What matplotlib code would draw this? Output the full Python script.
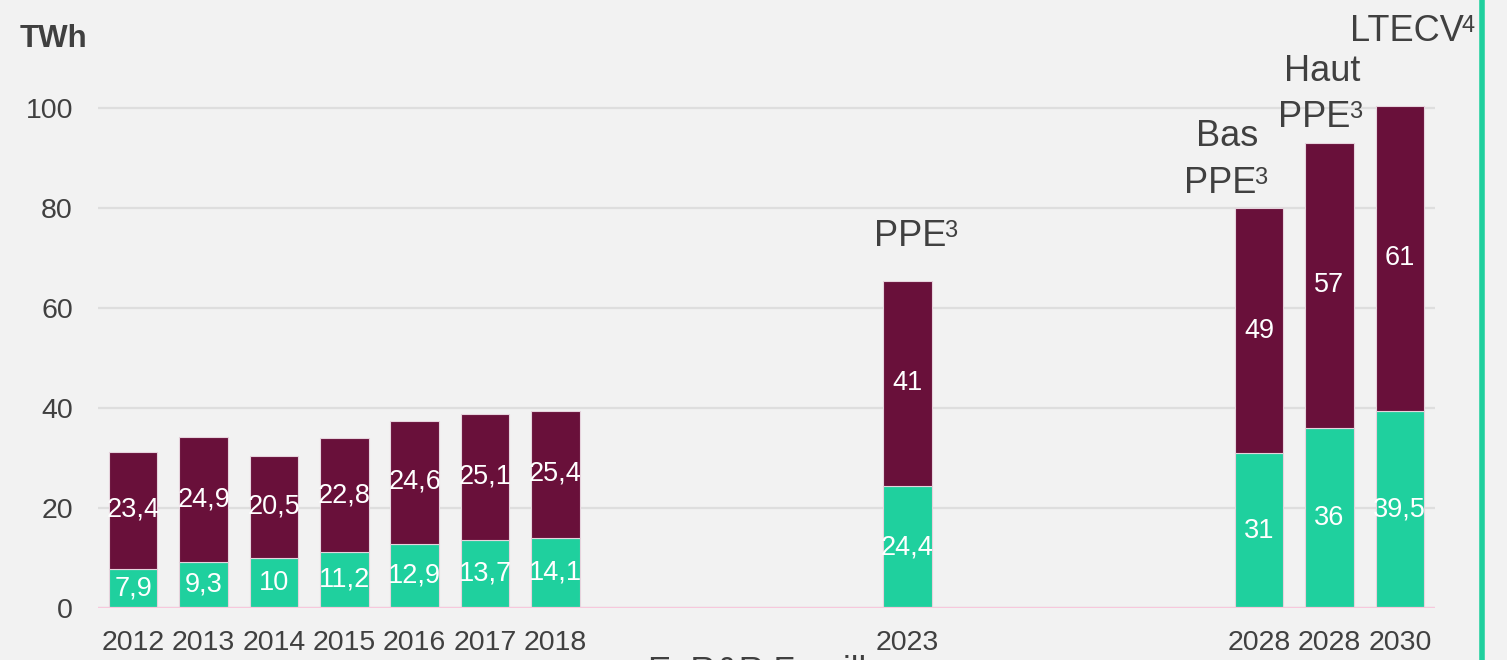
import matplotlib.pyplot as plt
import numpy as np

plt.rcParams['font.family'] = ['Liberation Sans', 'DejaVu Sans']

# data
years = ['2012', '2013', '2014', '2015', '2016', '2017', '2018', '2023', '2028', '2028', '2030']
slots = [0, 1, 2, 3, 4, 5, 6, 11, 16, 17, 18]
green_vals = [7.9, 9.3, 10, 11.2, 12.9, 13.7, 14.1, 24.4, 31, 36, 39.5]
maroon_vals = [23.4, 24.9, 20.5, 22.8, 24.6, 25.1, 25.4, 41, 49, 57, 61]

# scenario notes above the projected bars: (x, y, text, superscript)
notes = [
    (11.04, 72.5, 'PPE', '3'),
    (15.55, 92.4, 'Bas', ''),
    (15.45, 83.0, 'PPE', '3'),
    (16.89, 105.4, 'Haut', ''),
    (16.79, 96.2, 'PPE', '3'),
    (18.1, 113.4, 'LTECV', '4'),
]

GREEN = '#1fd09e'
MAROON = '#69103a'
BG = '#f2f2f2'
TXT = '#404040'

W, H = 1507, 660
fig = plt.figure(figsize=(W / 100, H / 100), dpi=100, facecolor=BG)
ax = fig.add_axes([98 / W, 52 / H, (1435 - 98) / W, (608 - 8) / H])
ax.set_facecolor(BG)

def fmt(v):
    return '{:g}'.format(v).replace('.', ',')

x = np.array(slots)
b1 = ax.bar(x, green_vals, width=0.69, color=GREEN, edgecolor='#e6d3dd', linewidth=0.8, zorder=3)
b2 = ax.bar(x, maroon_vals, width=0.69, bottom=green_vals, color=MAROON,
            edgecolor='#e6d3dd', linewidth=0.8, zorder=3)
ax.bar_label(b1, labels=[fmt(v) for v in green_vals], label_type='center',
             color='white', fontsize=19.5)
ax.bar_label(b2, labels=[fmt(v) for v in maroon_vals], label_type='center',
             color='white', fontsize=19.5)

for nx, ny, t, sup in notes:
    txt = ax.text(nx, ny, t, ha='center', va='baseline', fontsize=26, color=TXT, clip_on=False)
    if sup:
        # superscript: top aligned with the capitals of the word
        ax.annotate(sup, xy=(1, 0.96), xycoords=txt, xytext=(-1.5, 0), textcoords='offset points',
                    ha='left', va='top', fontsize=17, color=TXT, annotation_clip=False)

ax.set_xlim(-0.5, 18.5)
ax.set_ylim(0, 120)
ax.set_yticks([0, 20, 40, 60, 80, 100])
ax.set_xticks(x)
ax.set_xticklabels(years)
ax.tick_params(axis='both', length=0, labelsize=20.5, labelcolor=TXT)
ax.tick_params(axis='y', pad=18)
ax.tick_params(axis='x', pad=16)
ax.grid(axis='y', color='#dedede', linewidth=1.6, zorder=0)
ax.set_axisbelow(True)
for s in ax.spines.values():
    s.set_visible(False)
ax.axhline(0, color='#f7c8dc', linewidth=1.6, zorder=4)

fig.text(20 / W, (H - 47) / H, 'TWh', fontsize=22.5, fontweight='bold', color=TXT, va='baseline')
fig.text(648 / W, (H - 681) / H, 'EnR&R Famille', fontsize=25, color=TXT, va='baseline')
fig.add_artist(plt.Line2D([1482 / W, 1482 / W], [0, 1], color=GREEN, linewidth=4,
                          transform=fig.transFigure))

fig.savefig('out.png', dpi=100, facecolor=BG)
